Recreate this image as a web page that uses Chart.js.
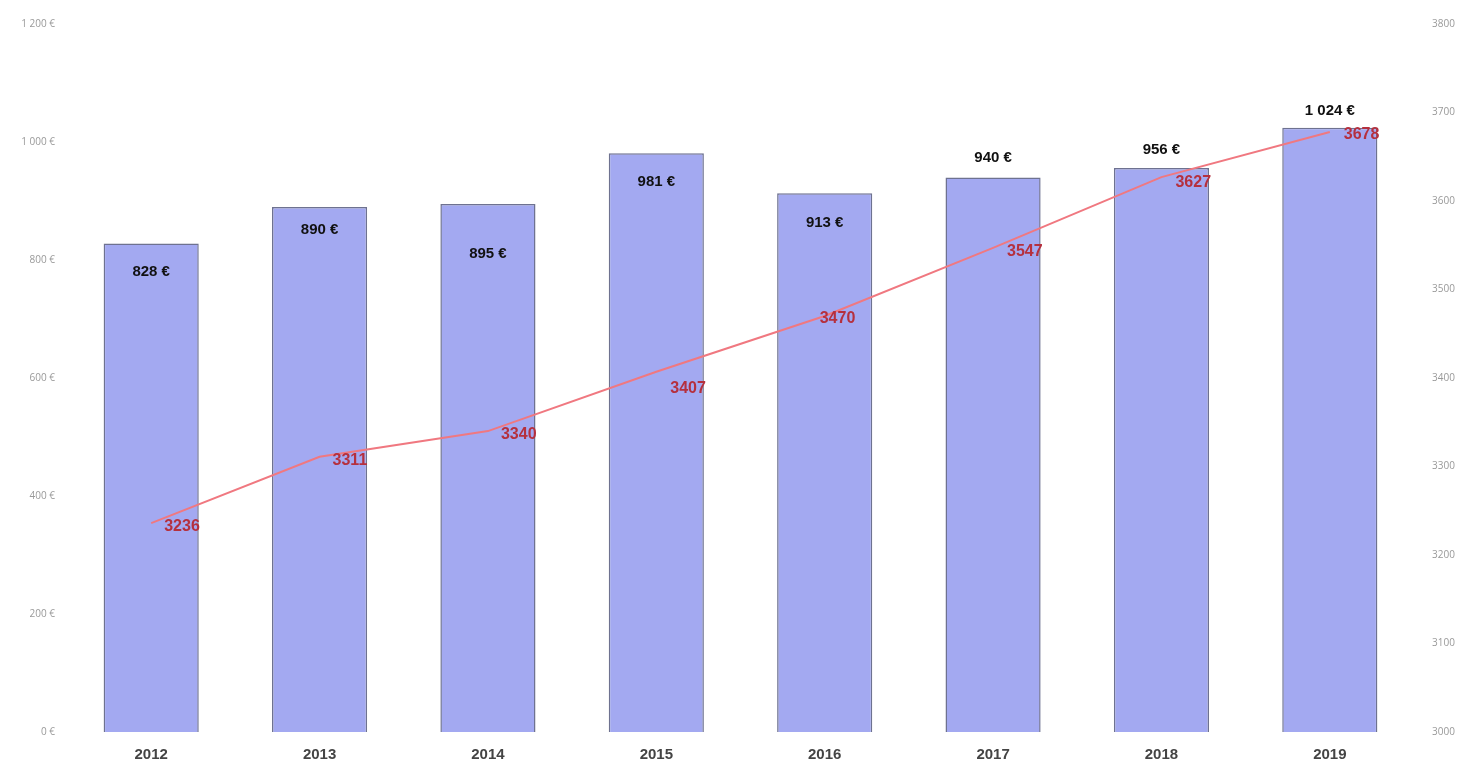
<!DOCTYPE html>
<html><head><meta charset="utf-8">
<script src="https://cdn.jsdelivr.net/npm/chart.js@4"></script>
<style>html,body{margin:0;padding:0;background:#fff;}#wrap{width:1460px;height:766px;}</style>
</head><body><div id="wrap"><canvas id="c" width="1460" height="766"></canvas></div>
<script>
const categories = ['2012','2013','2014','2015','2016','2017','2018','2019'];
const avgPrice = [828, 890, 895, 981, 913, 940, 956, 1024];
const countSeries = [3236, 3311, 3340, 3407, 3470, 3547, 3627, 3678];

function fmtEuro(v){
  const s = Math.round(v).toString().replace(/\B(?=(\d{3})+(?!\d))/g,' ');
  return s + ' €';
}

const labelPlugin = {
  id: 'valueLabels',
  afterDatasetsDraw(chart, args, opts) {
    const ctx = chart.ctx;
    ctx.save();
    const barMeta = chart.getDatasetMeta(0);
    ctx.font = 'bold 15px "Liberation Sans Narrow", "Liberation Sans", sans-serif';
    ctx.fillStyle = '#111';
    ctx.textAlign = 'center';
    ctx.textBaseline = 'middle';
    barMeta.data.forEach((el, i) => {
      ctx.fillText(fmtEuro(avgPrice[i]), el.x, el.y + opts.barOffsets[i]);
    });
    const lineMeta = chart.getDatasetMeta(1);
    ctx.font = 'bold 16px "Liberation Sans Narrow", "Liberation Sans", sans-serif';
    ctx.fillStyle = '#b5303e';
    ctx.textAlign = 'left';
    lineMeta.data.forEach((el, i) => {
      const o = opts.lineOffsets[i];
      ctx.fillText(String(countSeries[i]), el.x + o[0], el.y + o[1]);
    });
    ctx.restore();
  }
};

new Chart(document.getElementById('c'), {
  data: {
    labels: categories,
    datasets: [
      {
        type: 'bar', data: avgPrice, yAxisID: 'y', order: 2,
        backgroundColor: '#a3a9f1', borderColor: '#6e7290', borderWidth: 1.5,
        categoryPercentage: 1.0, barPercentage: 0.565
      },
      {
        type: 'line', data: countSeries, yAxisID: 'y1', order: 1,
        borderColor: '#f07880', borderWidth: 2, pointRadius: 0, tension: 0, fill: false
      }
    ]
  },
  options: {
    responsive: false, animation: false,
    plugins: {
      legend: { display: false }, tooltip: { enabled: false },
      valueLabels: {
        barOffsets: [28, 23, 50, 29, 30, -20, -18, -17],
        lineOffsets: [[13,3],[13,4],[13,3],[14,17],[-5,3],[14,4],[14,5],[14,3]]
      }
    },
    scales: {
      x: {
        grid: { display: false, drawTicks: false }, border: { display: false },
        ticks: { color: '#444', padding: 14, font: { family: '"Liberation Sans Narrow", "Liberation Sans", sans-serif', size: 15, weight: 'bold' } },
        afterFit(s){ s.height = 34; }
      },
      y: {
        position: 'left', min: 0, max: 1200,
        grid: { display: false, drawTicks: false }, border: { display: false },
        ticks: { stepSize: 200, padding: 12, color: '#999', font: { family: '"Open Sans", sans-serif', size: 10 }, callback: v => fmtEuro(v) },
        afterFit(s){ s.width = 67; }
      },
      y1: {
        position: 'right', min: 3000, max: 3800,
        grid: { display: false, drawTicks: false }, border: { display: false },
        ticks: { stepSize: 100, padding: 18, color: '#999', font: { family: '"Open Sans", sans-serif', size: 10 }, callback: v => String(v) },
        afterFit(s){ s.width = 46; }
      }
    }
  },
  plugins: [labelPlugin]
});
</script>
</body></html>
